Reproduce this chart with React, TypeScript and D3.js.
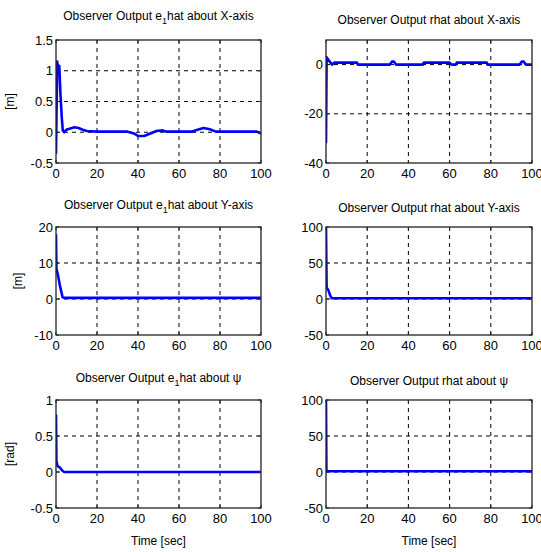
import React from "react";
import * as d3 from "d3";

// ---------- data ----------
const xTicks = [0, 20, 40, 60, 80, 100];

const e1X_t = [0, 0.6, 1.1, 1.6, 2.2, 2.8, 3.3, 4, 5, 7, 9, 11, 13, 15, 20, 25, 30, 35, 38, 40, 43, 46, 49, 52, 54, 60, 66, 69, 72, 75, 78, 80, 90, 98, 100];
const e1X_v = [-0.35, 1.15, 0.95, 1.08, 0.6, 0.25, 0.03, 0.0, 0.04, 0.06, 0.08, 0.07, 0.04, 0.02, 0.01, 0.01, 0.01, 0.01, -0.02, -0.06, -0.06, -0.02, 0.02, 0.03, 0.01, 0.01, 0.01, 0.04, 0.07, 0.05, 0.01, 0.01, 0.01, 0.01, -0.02];

const rX_t = [0, 0.3, 1.5, 3, 4, 15, 15.5, 31, 32, 33, 34, 47, 47.5, 60, 61, 63, 63.5, 78, 78.5, 94, 95, 96, 97, 100];
const rX_v = [-32, 3, 1.5, 0, 0.8, 0.8, 0, 0, 1.2, 1.2, 0, 0, 0.8, 0.8, 0, 0, 0.8, 0.8, 0, 0, 1.2, 1.2, 0, 0];

const e1Y_t = [0, 0.2, 1, 2, 3.2, 4, 100];
const e1Y_v = [18, 8.5, 6.5, 3.5, 0.5, 0.3, 0.3];

const rY_t = [0, 0.3, 1.2, 2, 2.8, 100];
const rY_v = [100, 16, 12, 5, 1, 1];

const e1P_t = [0, 0.2, 0.8, 2, 3, 4, 100];
const e1P_v = [0.8, 0.15, 0.08, 0.06, 0.02, 0.0, 0.0];

const rP_t = [0, 0.2, 100];
const rP_v = [100, 1, 1];

const yTicks1 = [-0.5, 0, 0.5, 1, 1.5];
const yTicks2 = [-40, -20, 0];
const yTicks3 = [-10, 0, 10, 20];
const yTicks4 = [-50, 0, 50, 100];
const yTicks5 = [-0.5, 0, 0.5, 1];
const yTicks6 = [-50, 0, 50, 100];

// ---------- layout ----------
const cols = [
  { x0: 56, x1: 261 },
  { x0: 326, x1: 532 },
];
const rows = [
  { y0: 40, y1: 163 },
  { y0: 227, y1: 335 },
  { y0: 400, y1: 508 },
];

const FONT = "'Liberation Sans Narrow', 'Liberation Sans', Arial, sans-serif";
const TICK_FS = 13;
const TITLE_FS = 12;

type Panel = {
  id: string;
  col: number;
  row: number;
  t: number[];
  v: number[];
  yDomain: [number, number];
  yTicks: number[];
  title: React.ReactNode;
  titleDy: number;
  ylabel?: string;
  ylabelX?: number;
  xlabel?: boolean;
};

const sub = (
  <tspan fontSize={9} dy={4}>
    1
  </tspan>
);

const panels: Panel[] = [
  {
    id: "p1", col: 0, row: 0, t: e1X_t, v: e1X_v, yDomain: [-0.5, 1.5], yTicks: yTicks1,
    title: (<>Observer Output e{sub}<tspan dy={-4}>hat about X-axis</tspan></>), titleDy: -20,
    ylabel: "[m]", ylabelX: 14,
  },
  {
    id: "p2", col: 1, row: 0, t: rX_t, v: rX_v, yDomain: [-40, 10], yTicks: yTicks2,
    title: "Observer Output rhat about X-axis", titleDy: -16,
  },
  {
    id: "p3", col: 0, row: 1, t: e1Y_t, v: e1Y_v, yDomain: [-10, 20], yTicks: yTicks3,
    title: (<>Observer Output e{sub}<tspan dy={-4}>hat about Y-axis</tspan></>), titleDy: -18,
    ylabel: "[m]", ylabelX: 22,
  },
  {
    id: "p4", col: 1, row: 1, t: rY_t, v: rY_v, yDomain: [-50, 100], yTicks: yTicks4,
    title: "Observer Output rhat about Y-axis", titleDy: -15,
  },
  {
    id: "p5", col: 0, row: 2, t: e1P_t, v: e1P_v, yDomain: [-0.5, 1], yTicks: yTicks5,
    title: (<>Observer Output e{sub}<tspan dy={-4}>hat about ψ</tspan></>), titleDy: -18,
    ylabel: "[rad]", ylabelX: 14, xlabel: true,
  },
  {
    id: "p6", col: 1, row: 2, t: rP_t, v: rP_v, yDomain: [-50, 100], yTicks: yTicks6,
    title: "Observer Output rhat about ψ", titleDy: -15, xlabel: true,
  },
];

function PanelView({ p }: { p: Panel }) {
  const c = cols[p.col];
  const r = rows[p.row];
  const x = d3.scaleLinear().domain([0, 100]).range([c.x0, c.x1]);
  const y = d3.scaleLinear().domain(p.yDomain).range([r.y1, r.y0]);
  const pts: [number, number][] = p.t.map((t, i) => [t, p.v[i]]);
  const line = d3
    .line<[number, number]>()
    .x((d) => x(d[0]))
    .y((d) => y(d[1]));
  const cx = (c.x0 + c.x1) / 2;
  const cy = (r.y0 + r.y1) / 2;
  return (
    <g>
      <defs>
        <clipPath id={`clip-${p.id}`}>
          <rect x={c.x0} y={r.y0} width={c.x1 - c.x0} height={r.y1 - r.y0} />
        </clipPath>
      </defs>
      <rect x={c.x0} y={r.y0} width={c.x1 - c.x0} height={r.y1 - r.y0} fill="#fff" />
      {/* grid */}
      {xTicks
        .filter((t) => t > 0 && t < 100)
        .map((t) => (
          <line key={"gx" + t} x1={x(t)} x2={x(t)} y1={r.y0} y2={r.y1} stroke="#000" strokeWidth={1} strokeDasharray="4,4" />
        ))}
      {p.yTicks
        .filter((t) => y(t) > r.y0 + 0.5 && y(t) < r.y1 - 0.5)
        .map((t) => (
          <line key={"gy" + t} x1={c.x0} x2={c.x1} y1={y(t)} y2={y(t)} stroke="#000" strokeWidth={1} strokeDasharray="4,4" />
        ))}
      {/* data */}
      <path d={line(pts) || ""} fill="none" stroke="#0000ff" strokeWidth={2.6} strokeLinejoin="round" clipPath={`url(#clip-${p.id})`} />
      {/* box */}
      <rect x={c.x0} y={r.y0} width={c.x1 - c.x0} height={r.y1 - r.y0} fill="none" stroke="#222" strokeWidth={1.3} />
      {/* ticks inward */}
      {xTicks.map((t) => (
        <g key={"tx" + t}>
          <line x1={x(t)} x2={x(t)} y1={r.y1} y2={r.y1 - 3} stroke="#222" />
          <line x1={x(t)} x2={x(t)} y1={r.y0} y2={r.y0 + 3} stroke="#222" />
          <text x={x(t)} y={r.y1 + 15} textAnchor="middle" fontFamily={FONT} fontSize={TICK_FS} fill="#000">
            {t}
          </text>
        </g>
      ))}
      {p.yTicks.map((t) => (
        <g key={"ty" + t}>
          <line x1={c.x0} x2={c.x0 + 3} y1={y(t)} y2={y(t)} stroke="#222" />
          <line x1={c.x1} x2={c.x1 - 3} y1={y(t)} y2={y(t)} stroke="#222" />
          <text x={c.x0 - 3} y={y(t) + 4.5} textAnchor="end" fontFamily={FONT} fontSize={TICK_FS} fill="#000">
            {t}
          </text>
        </g>
      ))}
      <text x={cx} y={r.y0 + p.titleDy} textAnchor="middle" fontFamily={FONT} fontSize={TITLE_FS} fill="#000">
        {p.title}
      </text>
      {p.ylabel && (
        <text transform={`translate(${p.ylabelX},${cy}) rotate(-90)`} textAnchor="middle" fontFamily={FONT} fontSize={12} fill="#000">
          {p.ylabel}
        </text>
      )}
      {p.xlabel && (
        <text x={cx} y={r.y1 + 37} textAnchor="middle" fontFamily={FONT} fontSize={12} fill="#000">
          Time [sec]
        </text>
      )}
    </g>
  );
}

export default function App() {
  return (
    <svg width={541} height={552} style={{ position: "absolute", left: 0, top: 0, background: "#fff" }}>
      <rect width={541} height={552} fill="#fff" />
      {panels.map((p) => (
        <PanelView key={p.id} p={p} />
      ))}
    </svg>
  );
}
